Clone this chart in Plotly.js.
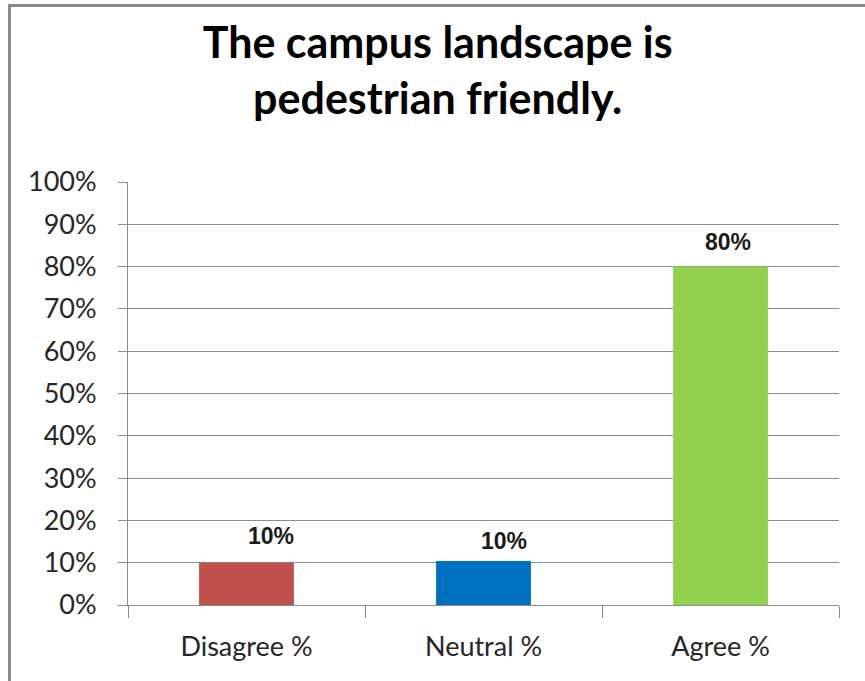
<!DOCTYPE html>
<html>
<head>
<meta charset="utf-8">
<script src="https://cdn.plot.ly/plotly-3.0.1.min.js"></script>
<style>
  html, body { margin: 0; padding: 0; background: #ffffff; }
  #wrap { position: relative; width: 865px; height: 681px; }
  #chart { position: absolute; left: 0; top: 0; width: 865px; height: 681px; }
  #frame { position: absolute; left: 8px; top: 4px; width: 870px; height: 690px;
           border-left: 3px solid #8a8a8a; border-top: 3px solid #8a8a8a;
           pointer-events: none; box-sizing: border-box; }
</style>
</head>
<body>
<div id="wrap">
  <div id="chart"></div>
  <div id="frame"></div>
</div>
<script>
// Data
const categories = ["Disagree %", "Neutral %", "Agree %"];
const values = [10, 10.4, 80];
const valueLabels = ["10%", "10%", "80%"];
const barColors = ["#c0504d", "#0070c0", "#92d050"];
const yTickValues = [0, 10, 20, 30, 40, 50, 60, 70, 80, 90, 100];
const yTickLabels = ["0%", "10%", "20%", "30%", "40%", "50%", "60%", "70%", "80%", "90%", "100%"];

// label placement style (pixel offsets relative to bar top)
const labelXShift = [24, 20, 7];
const labelYShift = [27, 20, 25];

const trace = {
  type: "bar",
  x: categories,
  y: values,
  marker: { color: barColors, line: { width: 0 } },
  hoverinfo: "x+y"
};

const annotations = categories.map((c, i) => ({
  x: c, y: values[i], xref: "x", yref: "y",
  text: valueLabels[i], showarrow: false,
  xshift: labelXShift[i], yshift: labelYShift[i],
  font: { family: "Liberation Sans, Arial, sans-serif", size: 23, color: "#1a1a1a", weight: "bold" }
}));

const layout = {
  width: 865, height: 681,
  margin: { l: 128, r: 26, t: 182, b: 76 },
  paper_bgcolor: "#ffffff", plot_bgcolor: "#ffffff",
  showlegend: false,
  bargap: 0.6,
  title: {
    text: "<b>The campus landscape is<br>pedestrian friendly.</b>",
    font: { family: "Lato, sans-serif", size: 43, color: "#000000" },
    x: 0.506, xanchor: "center", y: 0.915, yanchor: "middle"
  },
  font: { family: "Lato, sans-serif", color: "#262626" },
  xaxis: {
    type: "category",
    tickson: "boundaries",
    ticks: "outside", ticklen: 12, tickcolor: "#8c8c8c", tickwidth: 1,
    showline: true, linecolor: "#8c8c8c", linewidth: 1,
    showgrid: false, zeroline: false,
    tickfont: { family: "Lato, sans-serif", size: 27, color: "#262626" },
    ticklabelstandoff: 18
  },
  yaxis: {
    range: [0, 100],
    tickvals: yTickValues, ticktext: yTickLabels,
    ticks: "outside", ticklen: 9, tickcolor: "#8c8c8c", tickwidth: 1,
    showline: true, linecolor: "#8c8c8c", linewidth: 1,
    showgrid: true, gridcolor: "#8c8c8c", gridwidth: 1,
    zeroline: false,
    ticklabelstandoff: 16,
    tickfont: { family: "Lato, sans-serif", size: 27, color: "#262626" }
  },
  annotations: annotations
};

Plotly.newPlot("chart", [trace], layout, { displayModeBar: false, staticPlot: true });
</script>
</body>
</html>
